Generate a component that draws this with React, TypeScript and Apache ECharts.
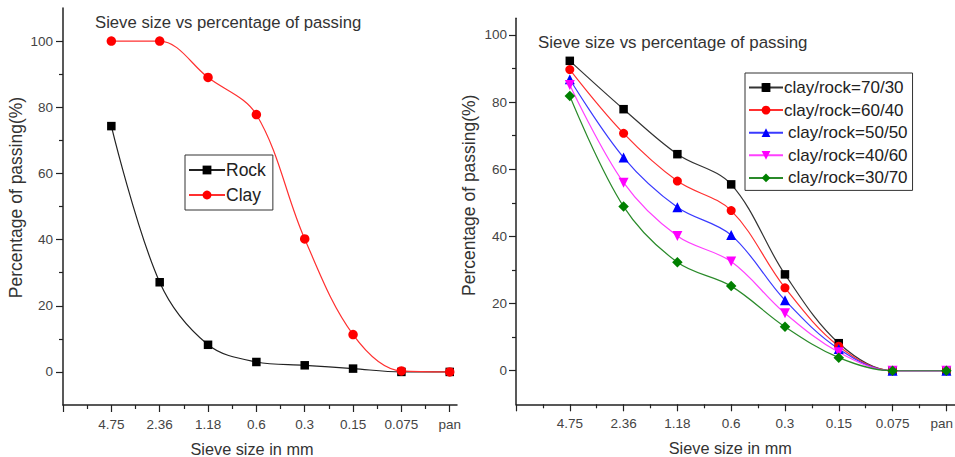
import React, { useEffect, useRef } from "react";
import * as echarts from "echarts";

const sieveLabels = ["4.75", "2.36", "1.18", "0.6", "0.3", "0.15", "0.075", "pan"];
const rockPassing = [74.3, 27.1, 8.2, 3.0, 2.0, 1.0, 0.0, 0.0];
const clayPassing = [100, 100, 89.0, 77.8, 40.2, 11.3, 0.3, 0.0];
const mix7030 = [92.3, 77.9, 64.5, 55.5, 28.7, 8.2, 0.0, 0.0];
const mix6040 = [89.7, 70.7, 56.5, 47.7, 24.7, 7.3, 0.0, 0.0];
const mix5050 = [86.8, 63.5, 48.7, 40.4, 21.0, 6.5, 0.0, 0.0];
const mix4060 = [85.1, 56.0, 40.1, 32.5, 17.1, 5.5, 0.0, 0.0];
const mix3070 = [81.8, 48.9, 32.3, 25.2, 13.1, 3.9, 0.0, 0.0];

const yMajor = [0, 20, 40, 60, 80, 100];
const yMinor = [10, 30, 50, 70, 90];
const xMajor = [0, 1, 2, 3, 4, 5, 6, 7, 8];
const xMinor = [0.5, 1.5, 2.5, 3.5, 4.5, 5.5, 6.5, 7.5];
const xLabelPos = [1, 2, 3, 4, 5, 6, 7, 8];

const FONT = "Liberation Sans, Arial, sans-serif";
const AXIS_COLOR = "#222";

const toPairs = (vals: number[]) => vals.map((v, i) => [i + 1, v]);

export default function App() {
  const ref = useRef<HTMLDivElement>(null);
  useEffect(() => {
    if (!ref.current) return;
    const chart = echarts.init(ref.current, null, { renderer: "svg" });

    const mainX = (grid: number, max: number, nameShift: number, pullLast: boolean) => ({
      type: "value",
      gridIndex: grid,
      position: "bottom",
      min: 0,
      max,
      interval: 0.5,
      splitLine: { show: false },
      axisLine: { onZero: false, lineStyle: { color: AXIS_COLOR, width: 1.5 } },
      axisTick: { customValues: xMajor, length: 7, lineStyle: { color: AXIS_COLOR, width: 1.2 } },
      axisLabel: {
        customValues: xLabelPos,
        formatter: (v: number) => {
          const idx = Math.round(v) - 1;
          const s = sieveLabels[idx] ?? "";
          return pullLast && idx === sieveLabels.length - 1 ? `{e|${s}}` : s;
        },
        rich: { e: { padding: [0, 9, 0, 0], fontSize: 13.5, color: "#444", fontFamily: FONT } },
        margin: 12,
        fontSize: 13.5,
        color: "#444",
        fontFamily: FONT,
      },
      name: "Sieve size in mm",
      nameLocation: "middle",
      nameGap: 36,
      nameTextStyle: {
        fontSize: 16.3,
        color: "#333",
        fontFamily: FONT,
        padding: nameShift > 0 ? [0, nameShift, 0, 0] : [0, 0, 0, -nameShift],
      },
    });
    const minorX = (grid: number, max: number) => ({
      type: "value",
      gridIndex: grid,
      position: "bottom",
      min: 0,
      max,
      interval: 0.5,
      splitLine: { show: false },
      axisLine: { show: false, onZero: false },
      axisTick: { customValues: xMinor, length: 4, lineStyle: { color: AXIS_COLOR, width: 1.2 } },
      axisLabel: { show: false },
    });
    const mainY = (grid: number, max: number, margin: number, nameGap: number, shiftUp: number) => ({
      type: "value",
      gridIndex: grid,
      position: "left",
      min: -10,
      max,
      interval: 10,
      splitLine: { show: false },
      axisLine: { onZero: false, lineStyle: { color: AXIS_COLOR, width: 1.5 } },
      axisTick: { customValues: yMajor, length: 7, lineStyle: { color: AXIS_COLOR, width: 1.2 } },
      axisLabel: { customValues: yMajor, margin, fontSize: 13.5, color: "#444", fontFamily: FONT },
      name: "Percentage of passing(%)",
      nameLocation: "middle",
      nameGap,
      nameTextStyle: {
        fontSize: 17.5,
        color: "#333",
        fontFamily: FONT,
        padding: [0, 0, 0, shiftUp * 2],
      },
    });
    const minorY = (grid: number, max: number) => ({
      type: "value",
      gridIndex: grid,
      position: "left",
      min: -10,
      max,
      interval: 10,
      splitLine: { show: false },
      axisLine: { show: false, onZero: false },
      axisTick: { customValues: yMinor, length: 4, lineStyle: { color: AXIS_COLOR, width: 1.2 } },
      axisLabel: { show: false },
    });

    const lineSeries = (
      name: string,
      vals: number[],
      color: string,
      symbol: string,
      size: number,
      axis: number,
      rotate = 0,
      lineColor = color
    ) => ({
      type: "line",
      name,
      data: toPairs(vals),
      xAxisIndex: axis,
      yAxisIndex: axis,
      smooth: 0.35,
      symbol,
      symbolSize: size,
      symbolRotate: rotate,
      showAllSymbol: true,
      itemStyle: { color },
      lineStyle: { color: lineColor, width: 1.2 },
      z: 3,
    });

    const legendItem = (name: string, shift: number) => ({
      name,
      textStyle: { padding: [0, 0, 0, shift] },
    });

    chart.setOption({
      animation: false,
      backgroundColor: "#fff",
      title: [
        {
          text: "Sieve size vs percentage of passing",
          left: 95,
          top: 14,
          padding: 0,
          textStyle: { fontSize: 16.7, fontWeight: "normal", color: "#333", fontFamily: FONT },
        },
        {
          text: "Sieve size vs percentage of passing",
          left: 538,
          top: 34,
          padding: 0,
          textStyle: { fontSize: 16.9, fontWeight: "normal", color: "#333", fontFamily: FONT },
        },
      ],
      legend: [
        {
          seriesIndex: [0, 1],
          data: ["Rock", "Clay"],
          orient: "vertical",
          left: 185,
          top: 155,
          padding: [6, 7, 6, 3],
          itemGap: 7,
          itemWidth: 36,
          itemHeight: 11,
          borderColor: "#333",
          borderWidth: 1,
          borderRadius: 0,
          textStyle: { fontSize: 17.5, color: "#222", fontFamily: FONT, padding: [0, 0, 0, -4] },
        },
        {
          data: [
            legendItem("clay/rock=70/30", -4),
            legendItem("clay/rock=60/40", -4),
            legendItem("clay/rock=50/50", 0),
            legendItem("clay/rock=40/60", 0),
            legendItem("clay/rock=30/70", 0),
          ],
          orient: "vertical",
          left: 745,
          top: 73,
          padding: [6, 5, 4, 3],
          itemGap: 5.6,
          itemWidth: 34,
          itemHeight: 11,
          borderColor: "#333",
          borderWidth: 1,
          borderRadius: 0,
          textStyle: { fontSize: 17, color: "#222", fontFamily: FONT },
        },
      ],
      grid: [
        { left: 63, top: 8, width: 394, height: 397, outerBoundsMode: "none", containLabel: false },
        { left: 516, top: 18.2, width: 446.5, height: 386.1, outerBoundsMode: "none", containLabel: false },
      ],
      xAxis: [mainX(0, 8.15, 16, false), minorX(0, 8.15), mainX(1, 8.3, 18, true), minorX(1, 8.3)],
      yAxis: [mainY(0, 110, 10, 38, 9), minorY(0, 110), mainY(1, 105, 9, 38, 16), minorY(1, 105)],
      series: [
        lineSeries("Rock", rockPassing, "#000", "rect", 8.5, 0, 0, "#222"),
        lineSeries("Clay", clayPassing, "#ff0000", "circle", 9.5, 0, 0, "#ff3030"),
        lineSeries("clay/rock=70/30", mix7030, "#000", "rect", 8.5, 2, 0, "#333"),
        lineSeries("clay/rock=60/40", mix6040, "#ff0000", "circle", 9, 2, 0, "#ff3030"),
        lineSeries("clay/rock=50/50", mix5050, "#0000ff", "triangle", 10, 2, 0, "#3a3aff"),
        lineSeries("clay/rock=40/60", mix4060, "#ff00ff", "triangle", 10, 2, 180, "#ff40ff"),
        lineSeries("clay/rock=30/70", mix3070, "#008000", "diamond", 10.5, 2, 0, "#2a8a2a"),
      ],
    });
    return () => chart.dispose();
  }, []);
  return (
    <div
      ref={ref}
      style={{ position: "fixed", left: 0, top: 0, width: 955, height: 457, background: "#fff" }}
    />
  );
}
